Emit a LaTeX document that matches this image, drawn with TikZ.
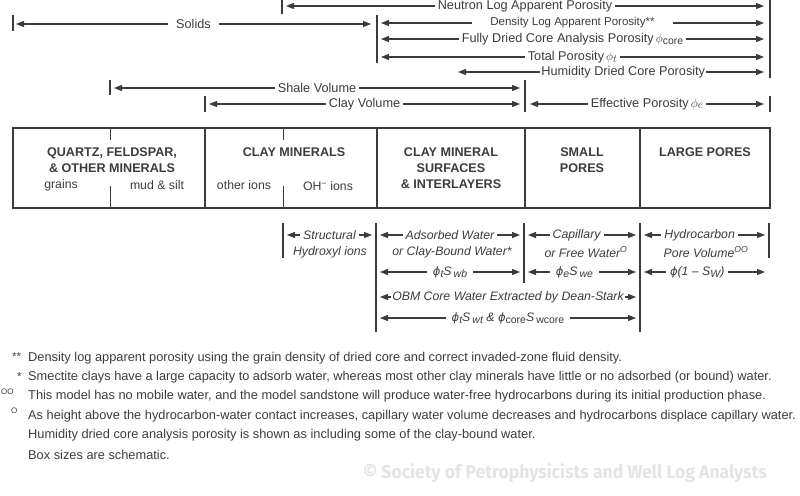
\documentclass[tikz,border=0pt]{standalone}
\usepackage{fontspec}
\setmainfont{Liberation Sans}
\newfontfamily\stampfont[FakeStretch=0.95]{Fira Sans}
\newfontfamily\greekfont{DejaVu Sans}
\usetikzlibrary{arrows.meta,positioning}
\definecolor{ink}{HTML}{3C3C3C}
\definecolor{faint}{HTML}{E4E4E4}
\newcommand{\subtxt}[1]{\raisebox{-2.5pt}{\fontsize{10.5}{12}\selectfont #1}}
\newcommand{\phis}{{\greekfont\itshape\fontsize{11.5}{12}\selectfont ϕ}}
\begin{document}
\begin{tikzpicture}[x=1pt, y=-1pt, color=ink, text=ink,
    dim/.style={{Triangle[length=8pt,width=6pt]}-{Triangle[length=8pt,width=6pt]}, line width=1.2pt},
    bar/.style={line width=1.2pt},
    tick/.style={line width=0.9pt},
    tag/.style={font=\fontsize{12.7}{14}\selectfont, fill=white, inner ysep=0pt, inner xsep=3pt},
    slant/.style={tag, font=\fontsize{12.3}{14}\selectfont\itshape},
    cell/.style={font=\fontsize{12.6}{16}\selectfont\bfseries, align=center, inner sep=0pt},
    ion/.style={font=\fontsize{12.3}{14}\selectfont, inner sep=0pt},
    note/.style={font=\fontsize{12.8}{14}\selectfont, anchor=west, inner sep=0pt}]
  \useasboundingbox (0,0) rectangle (800,495);

  \draw[bar] (282,0) -- (282,14);
  \draw[bar] (13,15) -- (13,31);
  \draw[bar] (377,15) -- (377,63);
  \draw[bar] (770,0) -- (770,78);
  \draw[bar] (110,80) -- (110,95);
  \draw[bar] (205,96) -- (205,112);
  \draw[bar] (525,80) -- (525,112);
  \draw[bar] (770,96) -- (770,112);

  \coordinate (neu-a) at (286,6);   \coordinate (neu-b) at (764,6);
  \coordinate (sol-a) at (16,24);   \coordinate (sol-b) at (371,24);
  \coordinate (den-a) at (381,23);  \coordinate (den-b) at (764,23);
  \coordinate (fdc-a) at (381,39);  \coordinate (fdc-b) at (764,39);
  \coordinate (tot-a) at (381,57);  \coordinate (tot-b) at (764,57);
  \coordinate (hum-a) at (458,72);  \coordinate (hum-b) at (764,72);
  \coordinate (sha-a) at (114,88);  \coordinate (sha-b) at (520,88);
  \coordinate (cly-a) at (209,104); \coordinate (cly-b) at (520,104);
  \coordinate (eff-a) at (530,104); \coordinate (eff-b) at (764,104);

  \draw[dim] (neu-a) -- (neu-b) node[tag, midway] (neu) {Neutron Log Apparent Porosity};
  \draw[dim] (sol-a) -- (sol-b) node[tag, midway, inner xsep=8pt] (sol) {Solids};
  \draw[dim] (den-a) -- (den-b) node[tag, midway, inner xsep=18pt, font=\fontsize{11.5}{13}\selectfont] (den) {Density Log Apparent Porosity**};
  \draw[dim] (fdc-a) -- (fdc-b) node[tag, midway] (fdc) {Fully Dried Core Analysis Porosity\,$\phi$\subtxt{core}};
  \draw[dim] (tot-a) -- (tot-b) node[tag, midway] (tot) {Total Porosity\,$\phi$\raisebox{-2pt}{\fontsize{11}{12}\selectfont$t$}};
  \draw[dim] (hum-a) -- (hum-b) node[tag, pos=0.54, inner xsep=1pt] (hum) {Humidity Dried Core Porosity};
  \draw[dim] (sha-a) -- (sha-b) node[tag, midway] (sha) {Shale Volume};
  \draw[dim] (cly-a) -- (cly-b) node[tag, midway] (cly) {Clay Volume};
  \draw[dim] (eff-a) -- (eff-b) node[tag, midway] (eff) {Effective Porosity\,$\phi$\raisebox{-1pt}{\fontsize{12}{12}\selectfont$e$}};

  \draw[line width=1.8pt] (13,128) rectangle (770,208);
  \draw[line width=1.5pt] (205,128) -- (205,208) (377,128) -- (377,208)
    (525,128) -- (525,208) (640,128) -- (640,208);
  \draw[tick] (110,128) -- (110,140) (110,186) -- (110,208)
    (283,128) -- (283,140) (283,186) -- (283,208);

  \node[cell] (qfm) at (112,160) {QUARTZ, FELDSPAR,\\\& OTHER MINERALS};
  \node[cell] (clm) at (294,152) {CLAY MINERALS};
  \node[cell] (cms) at (451,168) {CLAY MINERAL\\SURFACES\\\& INTERLAYERS};
  \node[cell] (smp) at (582,160) {SMALL\\PORES};
  \node[cell] (lgp) at (705,152) {LARGE PORES};
  \node[ion] (grn) at (61,185) {grains};
  \node[ion] (mud) at (157,185) {mud \& silt};
  \node[ion] (oth) at (244,185) {other ions};
  \node[ion] (ohi) at (328,186) {OH\textsuperscript{−} ions};

  \draw[bar] (283,223) -- (283,258);
  \draw[bar] (376,223) -- (376,332);
  \draw[bar] (524,223) -- (524,283);
  \draw[bar] (640,223) -- (640,332);
  \draw[bar] (769,223) -- (769,258);

  \coordinate (str-a) at (287,235); \coordinate (str-b) at (372,235);
  \coordinate (ads-a) at (380,235); \coordinate (ads-b) at (520,235);
  \coordinate (cap-a) at (528,235); \coordinate (cap-b) at (636,235);
  \coordinate (hyd-a) at (644,235); \coordinate (hyd-b) at (765,235);
  \coordinate (swb-a) at (380,272); \coordinate (swb-b) at (520,272);
  \coordinate (swe-a) at (528,272); \coordinate (swe-b) at (636,272);
  \coordinate (shc-a) at (644,272); \coordinate (shc-b) at (765,272);
  \coordinate (obm-a) at (380,297); \coordinate (obm-b) at (636,297);
  \coordinate (swt-a) at (380,318); \coordinate (swt-b) at (636,318);

  \draw[dim] (str-a) -- (str-b) node[slant, midway] (str) {Structural};
  \draw[dim] (ads-a) -- (ads-b) node[slant, midway] (ads) {Adsorbed Water};
  \draw[dim] (cap-a) -- (cap-b) node[slant, pos=0.45] (cap) {Capillary};
  \draw[dim] (hyd-a) -- (hyd-b) node[slant, pos=0.46] (hyd) {Hydrocarbon};
  \draw[dim] (swb-a) -- (swb-b) node[slant, midway, inner xsep=6pt] (swb) {\phis\subtxt{t}S\,\subtxt{wb}};
  \draw[dim] (swe-a) -- (swe-b) node[slant, pos=0.43, inner xsep=6pt] (swe) {\phis\subtxt{e}S\,\subtxt{we}};
  \draw[dim] (shc-a) -- (shc-b) node[slant, pos=0.44, inner xsep=4pt] (shc) {\phis(1 – S\subtxt{W})};
  \draw[dim] (obm-a) -- (obm-b) node[slant, midway, inner xsep=1pt] (obm) {OBM Core Water Extracted by Dean-Stark};
  \draw[dim] (swt-a) -- (swt-b) node[slant, midway, inner xsep=6pt] (swt) {\phis\subtxt{t}S\,\subtxt{wt} \& \phis\subtxt{\upshape core}S\,\subtxt{\upshape wcore}};

  \node[slant, fill=none] (hyx) at (330,252) {Hydroxyl ions};
  \node[slant, fill=none] (cbw) at (452,252) {or Clay-Bound Water*};
  \node[slant, fill=none] (frw) at (586,252) {or Free Water\textsuperscript{O}};
  \node[slant, fill=none] (pvo) at (706,252) {Pore Volume\textsuperscript{OO}};

  \node[note, font=\fontsize{11.5}{13}\selectfont] (m1) at (12,357) {**};
  \node[note, font=\fontsize{11.5}{13}\selectfont] (m2) at (17,377) {*};
  \node[note, font=\fontsize{8}{9}\selectfont] (m3) at (1,392) {OO};
  \node[note, font=\fontsize{8}{9}\selectfont] (m4) at (11,411) {O};
  \node[note] (f1) at (28,358) {Density log apparent porosity using the grain density of dried core and correct invaded-zone fluid density.};
  \node[note] (f2) at (28,377) {Smectite clays have a large capacity to adsorb water, whereas most other clay minerals have little or no adsorbed (or bound) water.};
  \node[note] (f3) at (28,396.5) {This model has no mobile water, and the model sandstone will produce water-free hydrocarbons during its initial production phase.};
  \node[note] (f4) at (28,416) {As height above the hydrocarbon-water contact increases, capillary water volume decreases and hydrocarbons displace capillary water.};
  \node[note] (f5) at (28,435.5) {Humidity dried core analysis porosity is shown as including some of the clay-bound water.};
  \node[note] (f6) at (28,455) {Box sizes are schematic.};

  \node[font=\stampfont\bfseries\fontsize{18.5}{20}\selectfont, text=faint, inner sep=0pt] (spwla) at (565,473) {© Society of Petrophysicists and Well Log Analysts};
\end{tikzpicture}
\end{document}
